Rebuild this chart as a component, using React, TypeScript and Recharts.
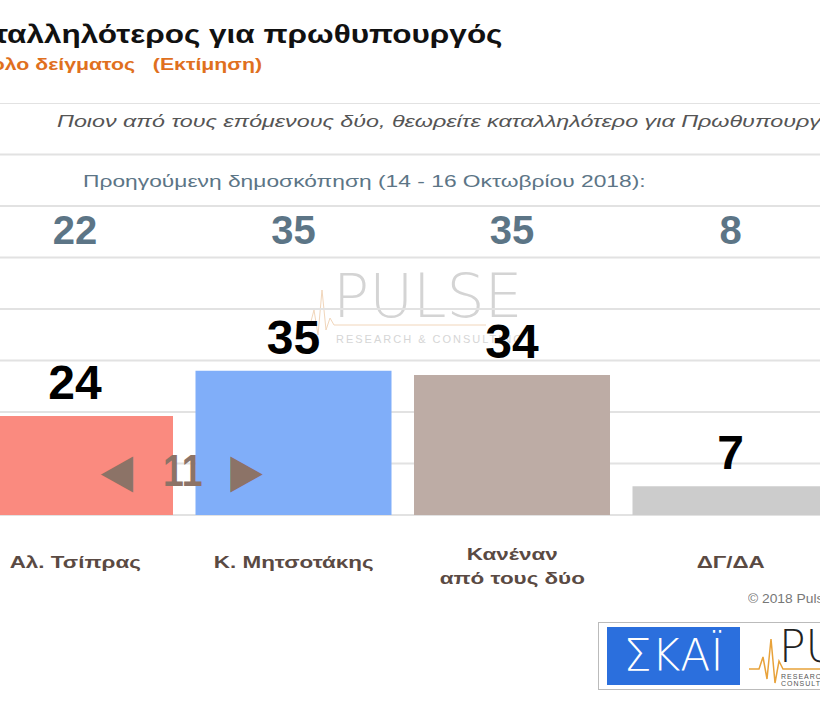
import type { CSSProperties, ReactNode } from "react";
import { BarChart, Bar, XAxis, YAxis, CartesianGrid, LabelList, Cell } from "recharts";

const categories = ["Αλ. Τσίπρας", "Κ. Μητσοτάκης", "Κανέναν\nαπό τους δύο", "ΔΓ/ΔΑ"];
const current = [24, 35, 34, 7];
const previous = [22, 35, 35, 8];
const barColors = ["#fa8a7f", "#80aef9", "#bdaca5", "#cccccc"];
const yTicks = [0, 12.5, 25, 37.5, 50, 62.5, 75, 87.5, 100];

const data = categories.map((name, i) => ({ name, value: current[i], prev: previous[i] }));
const lead = current[1] - current[0];

const sans = "'Liberation Sans', Arial, sans-serif";

// the source image is stretched sideways, so most texts get a scaleX
function Wide({ style, scale, origin, children }: { style: CSSProperties; scale: number; origin: string; children: ReactNode }) {
  return (
    <div style={{ position: "absolute", whiteSpace: "nowrap", lineHeight: 1, transform: `scaleX(${scale})`, transformOrigin: origin, ...style }}>
      {children}
    </div>
  );
}

function CategoryTick({ x, y, payload }: any) {
  const lines = String(payload.value).split("\n");
  const startY = lines.length > 1 ? y + 37 : y + 45;
  return (
    <g transform={`translate(${x},${startY}) scale(1.32,1)`}>
      <text x={0} y={0} textAnchor="middle" fill="#5a4a43" fontSize={17} fontWeight="bold" fontFamily={sans}>
        {lines.map((l, i) => (
          <tspan key={i} x={0} dy={i === 0 ? 0 : 24}>
            {l}
          </tspan>
        ))}
      </text>
    </g>
  );
}

function ValueLabel({ x, y, width, value }: any) {
  return (
    <text x={x + width / 2} y={y - 17} textAnchor="middle" fill="#000" fontSize={48} fontWeight="bold" fontFamily={sans}>
      {value}
    </text>
  );
}

function PrevLabel({ x, width, value }: any) {
  return (
    <text x={x + width / 2} y={141} textAnchor="middle" fill="#5c7586" fontSize={40} fontWeight="bold" fontFamily={sans}>
      {value}
    </text>
  );
}

const arrowStyle: CSSProperties = { top: 449, fontSize: 44, fontWeight: "bold", color: "#8c7367" };

export default function App() {
  return (
    <div style={{ position: "relative", width: 820, height: 701, overflow: "hidden", background: "#fff", fontFamily: sans }}>
      <style>{`body{margin:0}`}</style>
      <Wide scale={1.26} origin="right" style={{ right: 318, top: 22, fontSize: 25, fontWeight: "bold", color: "#111" }}>
        Καταλληλότερος για πρωθυπουργός
      </Wide>
      <Wide scale={1.33} origin="right" style={{ right: 558, top: 57, fontSize: 16, fontWeight: "bold", color: "#e0701e" }}>
        Σύνολο δείγματος&nbsp;&nbsp;&nbsp;(Εκτίμηση)
      </Wide>
      <Wide scale={1.37} origin="left" style={{ left: 57, top: 113, fontSize: 17, fontStyle: "italic", color: "#555" }}>
        Ποιον από τους επόμενους δύο, θεωρείτε καταλληλότερο για Πρωθυπουργό;
      </Wide>
      <Wide scale={1.34} origin="left" style={{ left: 83, top: 173, fontSize: 17, color: "#5c7586" }}>
        Προηγούμενη δημοσκόπηση (14 - 16 Οκτωβρίου 2018):
      </Wide>
      <Wide scale={1} origin="left" style={{ left: 333, top: 266, fontSize: 60, fontWeight: 300, color: "#d4d4d4", fontFamily: "'DejaVu Sans', sans-serif" }}>
        PULSE
      </Wide>
      <Wide scale={1} origin="left" style={{ left: 336, top: 334, fontSize: 11, color: "#d6d6d6", letterSpacing: 2 }}>
        RESEARCH &amp; CONSULTING
      </Wide>
      <svg style={{ position: "absolute", left: 296, top: 280 }} width={200} height={60}>
        <polyline points="0,45 14,45 18,30 22,55 26,10 30,50 34,38 38,45 190,45" fill="none" stroke="#f1d6bb" strokeWidth={1} />
      </svg>
      <div style={{ position: "absolute", left: -34, top: 103 }}>
        <BarChart width={874} height={512} data={data} margin={{ top: 0, right: 0, left: 0, bottom: 0 }}>
          <CartesianGrid vertical={false} stroke="#e2e2e2" strokeWidth={2} />
          <YAxis hide domain={[0, 100]} ticks={yTicks} />
          <XAxis dataKey="name" height={100} axisLine={false} tickLine={false} interval={0} tick={<CategoryTick />} />
          <Bar dataKey="value" barSize={196} isAnimationActive={false}>
            {data.map((d, i) => (
              <Cell key={d.name} fill={barColors[i]} />
            ))}
            <LabelList dataKey="value" content={<ValueLabel />} />
            <LabelList dataKey="prev" content={<PrevLabel />} />
          </Bar>
        </BarChart>
      </div>
      <Wide scale={0.9} origin="left" style={{ ...arrowStyle, left: 102 }}>◀</Wide>
      <Wide scale={0.85} origin="left" style={{ ...arrowStyle, left: 163 }}>{lead}</Wide>
      <Wide scale={0.9} origin="left" style={{ ...arrowStyle, left: 231 }}>▶</Wide>
      <Wide scale={1.15} origin="left" style={{ left: 748, top: 593, fontSize: 12, color: "#777" }}>
        © 2018 Pulse RC
      </Wide>
      <div style={{ position: "absolute", left: 598, top: 622, width: 240, height: 66, border: "1px solid #bbb", background: "#fff" }}>
        <div style={{ position: "absolute", left: 8, top: 4, width: 133, height: 58, background: "#2b6fdd", color: "#fff", fontSize: 44, textAlign: "center", lineHeight: "58px", fontFamily: "'DejaVu Sans', sans-serif", fontWeight: 300 }}>
          ΣΚΑΪ
        </div>
        <svg style={{ position: "absolute", left: 150, top: 10 }} width={90} height={56}>
          <polyline points="0,36 10,36 14,24 18,46 22,6 26,50 30,28 34,36 90,36" fill="none" stroke="#e8a23a" strokeWidth={1.5} />
        </svg>
        <div style={{ position: "absolute", left: 180, top: 2, fontSize: 44, color: "#222", fontFamily: "'DejaVu Sans', sans-serif", fontWeight: 300, lineHeight: 1 }}>
          PULSE
        </div>
        <div style={{ position: "absolute", left: 182, top: 50, fontSize: 7, color: "#555", letterSpacing: 1 }}>
          RESEARCH &amp; CONSULTING
        </div>
      </div>
    </div>
  );
}
